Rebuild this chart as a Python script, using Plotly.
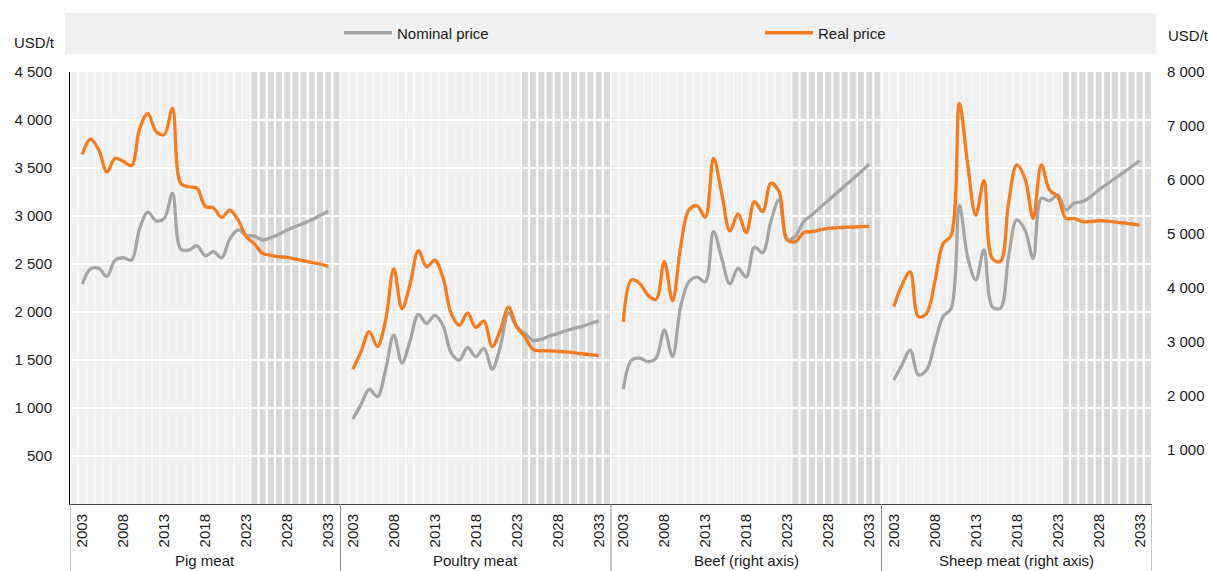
import plotly.graph_objects as go

# ---------------- data ----------------
years = list(range(2003, 2034))
label_years = [2003, 2008, 2013, 2018, 2023, 2028, 2033]
panels = ["Pig meat", "Poultry meat", "Beef (right axis)", "Sheep meat (right axis)"]
first_projection_year = 2024

pig_nominal = [2290, 2450, 2455, 2370, 2540, 2565, 2540, 2870, 3040, 2950, 2975, 3235, 2655, 2645, 2690, 2585,
               2630, 2565, 2760, 2855, 2800, 2790, 2750, 2775, 2810, 2855, 2890, 2925, 2960, 3005, 3050]
pig_real = [3640, 3800, 3690, 3460, 3600, 3570, 3525, 3910, 4070, 3880, 3850, 4120, 3340, 3305, 3290, 3100,
            3085, 2985, 3060, 2960, 2785, 2710, 2610, 2590, 2575, 2570, 2550, 2535, 2515, 2500, 2475]

poultry_nominal = [885, 1035, 1195, 1120, 1395, 1760, 1470, 1705, 1975, 1880, 1965, 1860, 1575, 1500, 1630, 1535,
                   1620, 1405, 1640, 1990, 1845, 1775, 1705, 1715, 1750, 1775, 1805, 1830, 1850, 1880, 1905]
poultry_real = [1405, 1585, 1795, 1640, 1915, 2450, 2035, 2295, 2640, 2470, 2540, 2360, 1985, 1860, 1990, 1840,
                1905, 1640, 1810, 2050, 1845, 1740, 1610, 1595, 1595, 1590, 1585, 1575, 1565, 1555, 1545]

beef_nominal = [2125, 2665, 2700, 2635, 2700, 3220, 2730, 3655, 4115, 4200, 4115, 5045, 4550, 4075, 4365, 4200,
                4755, 4655, 5230, 5630, 4890, 4960, 5230, 5350, 5490, 5620, 5755, 5890, 6020, 6155, 6290]
beef_real = [3375, 4150, 4085, 3870, 3790, 4490, 3765, 4765, 5445, 5520, 5310, 6400, 5755, 5060, 5370, 5025,
             5600, 5415, 5940, 5785, 4890, 4860, 5025, 5045, 5075, 5105, 5115, 5125, 5130, 5135, 5140]

sheep_nominal = [2295, 2575, 2850, 2390, 2480, 2975, 3470, 3625, 5535, 4580, 4150, 4705, 3655, 3625, 4580, 5260,
                 5075, 4550, 5660, 5615, 5720, 5445, 5570, 5600, 5690, 5815, 5925, 6030, 6135, 6245, 6360]
sheep_real = [3655, 4055, 4300, 3470, 3530, 4115, 4815, 4980, 7420, 6310, 5350, 5990, 4550, 4490, 5570, 6280,
              6030, 5290, 6280, 5815, 5690, 5290, 5290, 5230, 5230, 5245, 5240, 5220, 5205, 5185, 5165]

left_ticks = [500, 1000, 1500, 2000, 2500, 3000, 3500, 4000, 4500]
right_ticks = [1000, 2000, 3000, 4000, 5000, 6000, 7000, 8000]

series = [
    (pig_nominal, pig_real, "y"),
    (poultry_nominal, poultry_real, "y"),
    (beef_nominal, beef_real, "y2"),
    (sheep_nominal, sheep_real, "y2"),
]

# ---------------- style ----------------
FONT = "Liberation Sans, Arial, sans-serif"
FS = 15
TXT = "#1a1a1a"
GREY = "#a5a5a5"
ORANGE = "#f47c20"
SLOTS = len(years) + 2  # one blank slot before and after each panel

W, H = 1208, 571
L, R, T, B = 70, 56, 72, 67
PH = H - T - B
PW = W - L - R


def px_y(py):
    return (H - B - py) / PH


def px_x(px):
    return (px - L) / PW


fig = go.Figure()

for p, (nom, real, yax) in enumerate(series):
    xs = [SLOTS * p + 1 + i for i in range(len(years))]
    fig.add_trace(go.Scatter(x=xs, y=nom, yaxis=yax, mode="lines", name="Nominal price",
                             legendgroup="nom", showlegend=(p == 0),
                             line=dict(color=GREY, width=3.3, shape="spline", smoothing=1)))
for p, (nom, real, yax) in enumerate(series):
    xs = [SLOTS * p + 1 + i for i in range(len(years))]
    fig.add_trace(go.Scatter(x=xs, y=real, yaxis=yax, mode="lines", name="Real price",
                             legendgroup="real", showlegend=(p == 0),
                             line=dict(color=ORANGE, width=3.3, shape="spline", smoothing=1)))

shapes = []
proj_k = 1 + years.index(first_projection_year)
for p in range(len(panels)):
    base = SLOTS * p
    shapes.append(dict(type="rect", xref="x", yref="paper", x0=base - 0.5, x1=base + proj_k - 0.5,
                       y0=0, y1=1, fillcolor="#f6f6f6", line_width=0, layer="below"))
    for k in range(SLOTS):
        c = base + k
        col = "#efefef" if k < proj_k else "#d9d9d9"
        shapes.append(dict(type="rect", xref="x", yref="paper", x0=c - 0.37, x1=c + 0.37,
                           y0=0, y1=1, fillcolor=col, line_width=0, layer="below"))
# panel separators under the axis
for p in range(len(panels) + 1):
    xb = SLOTS * p - 0.5
    shapes.append(dict(type="line", xref="x", yref="paper", x0=xb, x1=xb, y0=0, y1=px_y(H),
                       line=dict(color="#8c8c8c", width=1)))
# legend box
shapes.append(dict(type="rect", xref="paper", yref="paper", x0=px_x(65), x1=px_x(1156),
                   y0=px_y(54), y1=px_y(13), fillcolor="#f0f0f0", line_width=0, layer="below"))

annotations = []
for p, name in enumerate(panels):
    annotations.append(dict(text=name, xref="x", yref="paper", x=SLOTS * p + (SLOTS - 1) / 2,
                            y=px_y(560), showarrow=False, xanchor="center", yanchor="middle",
                            font=dict(size=FS, color=TXT, family=FONT)))
annotations.append(dict(text="USD/t", xref="paper", yref="paper", x=px_x(12), y=px_y(42),
                        xanchor="left", yanchor="middle", showarrow=False,
                        font=dict(size=FS, color=TXT, family=FONT)))
annotations.append(dict(text="USD/t", xref="paper", yref="paper", x=px_x(1166), y=px_y(35),
                        xanchor="left", yanchor="middle", showarrow=False,
                        font=dict(size=FS, color=TXT, family=FONT)))

tickvals, ticktext = [], []
for p in range(len(panels)):
    for yr in label_years:
        tickvals.append(SLOTS * p + 1 + years.index(yr))
        ticktext.append(str(yr))

fig.update_layout(
    width=W, height=H,
    margin=dict(l=L, r=R, t=T, b=B, autoexpand=False),
    paper_bgcolor="white", plot_bgcolor="white",
    font=dict(family=FONT, size=FS, color=TXT),
    separators=". ",
    shapes=shapes, annotations=annotations,
    showlegend=True,
    legend=dict(orientation="h", x=px_x(339), y=px_y(33), xanchor="left", yanchor="middle",
                bgcolor="rgba(0,0,0,0)", entrywidth=358, entrywidthmode="pixels", itemwidth=48,
                font=dict(size=FS, color=TXT, family=FONT), traceorder="normal"),
    xaxis=dict(range=[-0.5, SLOTS * len(panels) - 0.5], tickmode="array", tickvals=tickvals,
               ticktext=ticktext, tickangle=-90, showgrid=False, zeroline=False, ticks="",
               showline=True, linecolor="#404040", linewidth=1, ticklabelstandoff=3,
               tickfont=dict(size=FS, color=TXT, family=FONT)),
    yaxis=dict(range=[0, 4500], tickmode="array", tickvals=left_ticks, tickformat=",d",
               showgrid=True, gridcolor="white", gridwidth=2, zeroline=False, ticks="",
               showline=True, linecolor="black", linewidth=1, ticklabelstandoff=14,
               tickfont=dict(size=FS, color=TXT, family=FONT)),
    yaxis2=dict(range=[0, 8000], overlaying="y", side="right", tickmode="array", tickvals=right_ticks,
                tickformat=",d", showgrid=False, zeroline=False, ticks="", showline=False,
                ticklabelstandoff=14, tickfont=dict(size=FS, color=TXT, family=FONT)),
)

fig.write_html("out.html", config={"displayModeBar": False},
               post_script="document.body.style.margin='0';document.body.style.overflow='hidden';")
